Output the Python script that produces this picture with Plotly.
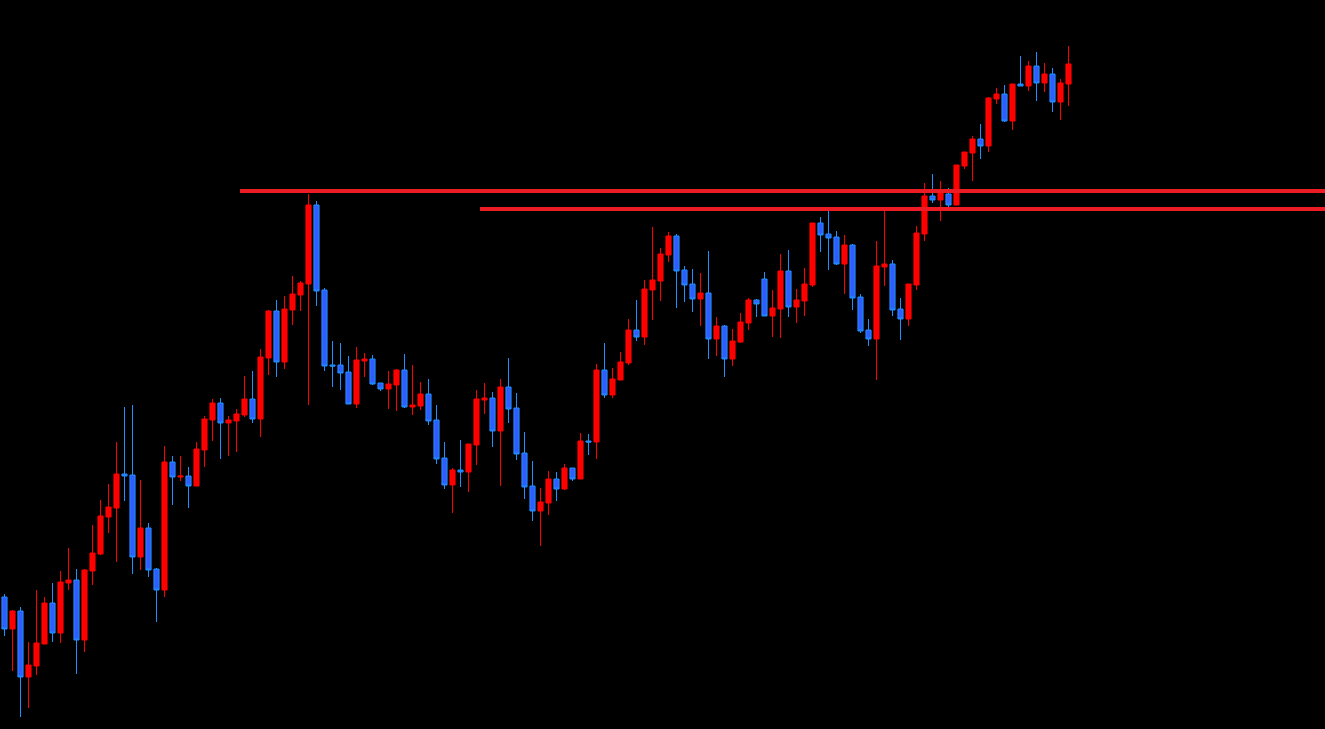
import plotly.graph_objects as go

# Candle index (one per bar)
bar_index = list(range(134))

open_ = [403, 371, 389, 323, 334, 356, 397, 367, 417, 420,
         360, 429, 446, 483, 492, 526, 525, 443, 472, 431,
         410, 538, 523, 524, 514, 550, 580, 597, 577, 579,
         585, 601, 581, 642, 689, 638, 690, 705, 716, 795,
         710, 635, 635, 628, 596, 639, 641, 617, 611, 615,
         630, 593, 594, 606, 580, 542, 515, 530, 528, 555,
         600, 602, 569, 613, 592, 547, 514, 489, 497, 521,
         511, 532, 521, 559, 558, 630, 605, 620, 637, 670,
         663, 710, 719, 745, 764, 730, 716, 701, 707, 661,
         674, 641, 658, 677, 700, 721, 684, 691, 729, 693,
         699, 715, 777, 766, 763, 736, 755, 703, 670, 661,
         733, 736, 691, 681, 715, 766, 804, 800, 806, 795,
         834, 847, 861, 854, 901, 906, 879, 916, 914, 934,
         917, 926, 898, 916]

high = [406, 390, 393, 358, 410, 403, 417, 429, 452, 431,
        431, 475, 500, 516, 558, 593, 595, 520, 477, 432,
        554, 544, 544, 533, 558, 584, 601, 602, 584, 591,
        624, 629, 651, 690, 700, 704, 724, 719, 806, 799,
        712, 659, 657, 644, 653, 647, 645, 617, 629, 631,
        646, 635, 618, 621, 595, 558, 532, 560, 556, 610,
        617, 608, 621, 642, 607, 568, 539, 512, 529, 528,
        536, 532, 567, 566, 636, 657, 632, 648, 681, 700,
        720, 773, 752, 768, 766, 734, 731, 727, 749, 683,
        675, 671, 687, 702, 701, 728, 710, 746, 750, 711,
        732, 777, 783, 789, 769, 765, 756, 706, 681, 759,
        789, 740, 702, 716, 774, 817, 826, 819, 812, 835,
        848, 864, 876, 903, 912, 915, 916, 944, 939, 948,
        937, 932, 921, 954]

low = [364, 329, 283, 292, 325, 356, 358, 357, 410, 326,
       348, 415, 445, 467, 438, 499, 426, 430, 423, 378,
       403, 495, 519, 492, 514, 533, 559, 541, 544, 548,
       583, 577, 563, 625, 623, 631, 675, 689, 595, 694,
       629, 613, 610, 596, 592, 623, 615, 609, 591, 589,
       592, 585, 590, 575, 536, 511, 487, 513, 508, 535,
       586, 553, 514, 577, 540, 501, 479, 454, 485, 499,
       510, 519, 521, 545, 541, 602, 602, 620, 635, 659,
       655, 680, 699, 738, 692, 698, 688, 674, 641, 644,
       623, 634, 657, 670, 683, 684, 663, 662, 683, 677,
       684, 713, 748, 730, 735, 706, 690, 667, 654, 620,
       714, 684, 660, 674, 710, 759, 797, 779, 793, 795,
       831, 819, 841, 848, 896, 878, 870, 914, 909, 899,
       908, 888, 880, 894]

close = [371, 389, 323, 335, 357, 397, 367, 418, 420, 360,
         430, 447, 484, 493, 526, 524, 443, 472, 430, 410,
         538, 523, 524, 514, 551, 581, 597, 577, 580, 586,
         601, 581, 643, 689, 638, 691, 706, 717, 795, 709,
         634, 634, 627, 596, 640, 641, 616, 611, 616, 630,
         593, 595, 606, 579, 541, 515, 530, 528, 556, 601,
         602, 569, 613, 591, 546, 513, 489, 498, 521, 511,
         532, 521, 559, 558, 630, 605, 621, 638, 670, 663,
         711, 720, 746, 764, 729, 715, 701, 707, 661, 674,
         641, 659, 678, 700, 696, 684, 692, 729, 693, 700,
         716, 777, 765, 762, 736, 755, 702, 669, 661, 734,
         736, 690, 681, 716, 767, 804, 800, 807, 795, 835,
         848, 861, 854, 902, 906, 879, 916, 914, 934, 917,
         926, 898, 917, 936]

# Horizontal resistance levels: (price, starting bar index)
level_prices = [809, 791]
level_starts = [29.4375, 59.4375]

UP_RED = "#FF0000"
DOWN_BLUE_LINE = "#1E90FF"
DOWN_BLUE_FILL = "#2F5CFF"
LEVEL_RED = "#ED1C24"

fig = go.Figure()
fig.add_trace(go.Candlestick(
    x=bar_index, open=open_, high=high, low=low, close=close,
    increasing=dict(line=dict(color=UP_RED, width=1), fillcolor=UP_RED),
    decreasing=dict(line=dict(color=DOWN_BLUE_LINE, width=1), fillcolor=DOWN_BLUE_FILL),
    whiskerwidth=0,
    hoverinfo="skip",
    showlegend=False,
))

x_min = -4.5 / 8
x_max = x_min + 1325 / 8
for p, s in zip(level_prices, level_starts):
    fig.add_shape(type="line", xref="x", yref="y", x0=s, x1=x_max + 5, y0=p, y1=p,
                  line=dict(color=LEVEL_RED, width=4), layer="above")

fig.update_layout(
    width=1325, height=729,
    margin=dict(l=0, r=0, t=0, b=0),
    paper_bgcolor="#000000", plot_bgcolor="#000000",
    boxgap=0.2, boxgroupgap=0.2,
    xaxis=dict(range=[x_min, x_max], visible=False, showgrid=False,
               rangeslider=dict(visible=False), zeroline=False),
    yaxis=dict(range=[271, 1000], visible=False, showgrid=False, zeroline=False),
    showlegend=False,
)

fig.write_html(
    "out.html",
    config={"displayModeBar": False},
    post_script="document.body.style.margin='0';document.body.style.background='#000';"
                "document.body.style.overflow='hidden';",
)
